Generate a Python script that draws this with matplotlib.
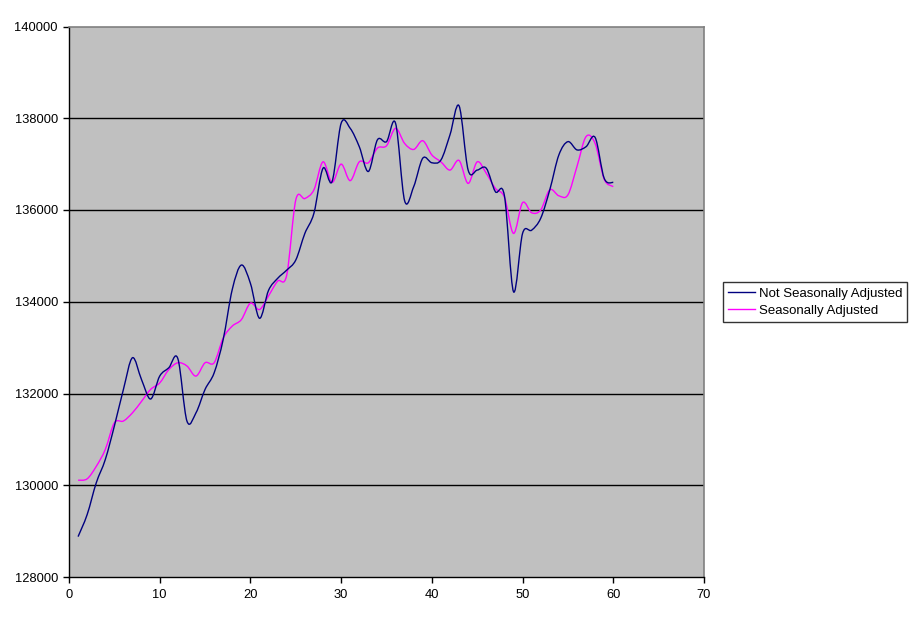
import numpy as np
import matplotlib
matplotlib.use("Agg")
import matplotlib.pyplot as plt
from matplotlib.path import Path
from matplotlib.patches import PathPatch

# monthly index 1..60
months = list(range(1, 61))

not_adjusted = [
    128880, 129360, 130050, 130560, 131290, 132090, 132780, 132300, 131880, 132380,
    132560, 132760, 131400, 131580, 132090, 132450, 133180, 134270, 134800, 134400,
    133640, 134250, 134510, 134690, 134910, 135490, 135930, 136910, 136620, 137890,
    137780, 137380, 136840, 137530, 137490, 137890, 136200, 136510, 137130, 137030,
    137090, 137640, 138270, 136870, 136870, 136910, 136400, 136310, 134220, 135490,
    135560, 135820, 136440, 137200, 137490, 137310, 137380, 137580, 136690, 136600,
]

seasonally_adjusted = [
    130110, 130140, 130410, 130780, 131360, 131400, 131580, 131830, 132090, 132230,
    132520, 132670, 132600, 132380, 132670, 132670, 133210, 133470, 133610, 133970,
    133830, 134130, 134450, 134580, 136220, 136250, 136440, 137050, 136600, 137000,
    136640, 137050, 137030, 137350, 137400, 137780, 137450, 137320, 137510, 137200,
    137050, 136870, 137080, 136580, 137050, 136800, 136470, 136280, 135490, 136160,
    135940, 136000, 136440, 136310, 136330, 136950, 137600, 137450, 136670, 136510,
]

x_ticks = [0, 10, 20, 30, 40, 50, 60, 70]
y_ticks = [128000, 130000, 132000, 134000, 136000, 138000, 140000]


def smooth_path(xs, ys):
    # excel-style smoothed line: cubic bezier through the points
    xs = np.asarray(xs, float)
    ys = np.asarray(ys, float)
    pts = np.column_stack([xs, ys])
    verts = [pts[0]]
    codes = [Path.MOVETO]
    n = len(pts)
    for i in range(n - 1):
        p0 = pts[i - 1] if i > 0 else pts[i]
        p1 = pts[i]
        p2 = pts[i + 1]
        p3 = pts[i + 2] if i + 2 < n else pts[i + 1]
        c1 = p1 + (p2 - p0) / 6.0
        c2 = p2 - (p3 - p1) / 6.0
        verts += [c1, c2, p2]
        codes += [Path.CURVE4] * 3
    return Path(verts, codes)


plt.rcParams['font.family'] = ['Liberation Sans', 'DejaVu Sans']

fig = plt.figure(figsize=(9.11, 6.23), dpi=100)
ax = fig.add_axes([69 / 911, 1 - 577 / 623, (704 - 69) / 911, (577 - 26.5) / 623])
ax.set_facecolor('#C0C0C0')

for yt in y_ticks[1:-1]:
    ax.axhline(yt, color='black', lw=1.0, zorder=1)

p1 = PathPatch(smooth_path(months, not_adjusted), facecolor='none',
               edgecolor='#000080', lw=1.0, zorder=3)
p2 = PathPatch(smooth_path(months, seasonally_adjusted), facecolor='none',
               edgecolor='#FF00FF', lw=1.0, zorder=2)
ax.add_patch(p2)
ax.add_patch(p1)

ax.set_xlim(0, 70)
ax.set_ylim(128000, 140000)
ax.set_xticks(x_ticks)
ax.set_yticks(y_ticks)
ax.tick_params(direction='out', length=4, width=1, labelsize=9.3, color='black')
ax.tick_params(axis='x', pad=5)
ax.tick_params(axis='y', pad=4)

for s in ['top', 'right']:
    ax.spines[s].set_color('#808080')
    ax.spines[s].set_linewidth(1.2)
for s in ['left', 'bottom']:
    ax.spines[s].set_color('black')
    ax.spines[s].set_linewidth(1.0)

h1, = ax.plot([], [], color='#000080', lw=1.0, label='Not Seasonally Adjusted')
h2, = ax.plot([], [], color='#FF00FF', lw=1.0, label='Seasonally Adjusted')
leg = fig.legend(handles=[h1, h2], loc='center left',
                 bbox_to_anchor=(723 / 911, 1 - 302 / 623),
                 frameon=True, fancybox=False, fontsize=9.5,
                 handlelength=2.0, handletextpad=0.3, borderpad=0.4,
                 labelspacing=0.35, borderaxespad=0)
leg.get_frame().set_edgecolor('black')
leg.get_frame().set_linewidth(1.0)

fig.savefig('out.png', dpi=100, facecolor='white')
